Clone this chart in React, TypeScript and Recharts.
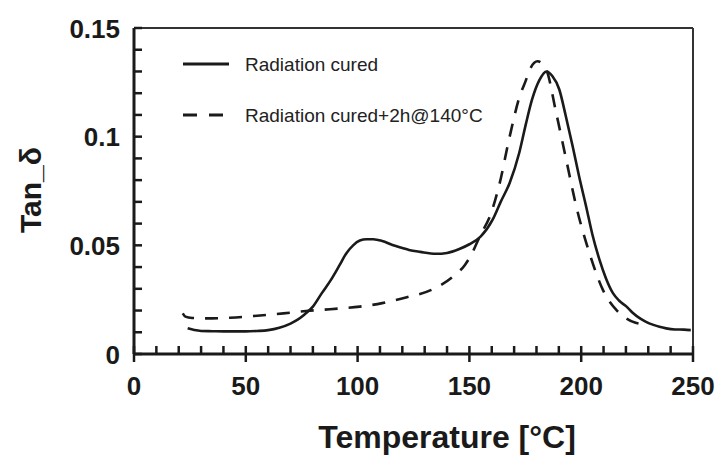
import React from 'react';
import { LineChart, Line, XAxis, YAxis, ReferenceLine, Label } from 'recharts';

const curedTemps = [24, 27, 30, 35, 40, 45, 50, 55, 60, 65, 70, 73, 76, 80, 84, 88, 92, 95, 98, 101, 104, 107, 111, 115.6, 120, 123, 128, 135, 140, 145.5, 150, 155, 160.4, 164, 168, 172.3, 175.3, 178, 181.3, 184.5, 187, 190.2, 193, 196.2, 199, 202.2, 205, 208.2, 211, 214.2, 217, 220.3, 223, 226.3, 229, 232.3, 235, 238, 242, 246, 249];
const curedTan = [0.0118, 0.011, 0.0106, 0.0105, 0.0104, 0.0104, 0.0104, 0.0106, 0.011, 0.0121, 0.014, 0.0157, 0.018, 0.0218, 0.028, 0.034, 0.041, 0.0464, 0.05, 0.0522, 0.0528, 0.0528, 0.052, 0.0502, 0.0488, 0.0479, 0.047, 0.0461, 0.0465, 0.0483, 0.0505, 0.054, 0.0618, 0.07, 0.0787, 0.0926, 0.106, 0.117, 0.126, 0.13, 0.128, 0.1217, 0.11, 0.0955, 0.082, 0.0679, 0.055, 0.0433, 0.035, 0.028, 0.0245, 0.0218, 0.019, 0.0164, 0.0148, 0.0134, 0.0125, 0.0118, 0.0113, 0.0112, 0.011];

const postTemps = [21.8, 23, 26, 32.5, 43, 55, 66.8, 77, 87.7, 101, 111, 122, 133, 142.6, 148, 151, 154.6, 159.7, 163.4, 168, 172.5, 175.3, 177, 180.5, 184.3, 188.8, 193.3, 197.8, 203.7, 209.7, 215.7, 220, 224, 226];
const postTan = [0.0187, 0.0172, 0.0166, 0.0164, 0.0167, 0.0176, 0.0187, 0.0198, 0.0206, 0.0218, 0.0234, 0.0261, 0.0295, 0.0356, 0.041, 0.046, 0.054, 0.0648, 0.078, 0.1, 0.1186, 0.126, 0.1309, 0.1347, 0.131, 0.111, 0.0894, 0.0679, 0.0464, 0.0295, 0.0203, 0.0165, 0.0145, 0.014];

const xTicks = [0, 10, 20, 30, 40, 50, 60, 70, 80, 90, 100, 110, 120, 130, 140, 150, 160, 170, 180, 190, 200, 210, 220, 230, 240, 250];
const xMajor = [0, 50, 100, 150, 200, 250];
const yTicks = [0, 0.01, 0.02, 0.03, 0.04, 0.05, 0.06, 0.07, 0.08, 0.09, 0.1, 0.11, 0.12, 0.13, 0.14, 0.15];
const yMajor = [0, 0.05, 0.1, 0.15];

const seriesNames = ['Radiation cured', 'Radiation cured+2h@140°C'];

const curedData = curedTemps.map((t, i) => ({ t, v: curedTan[i] }));
const postData = postTemps.map((t, i) => ({ t, v: postTan[i] }));

const FONT = '"Liberation Sans", Arial, Helvetica, sans-serif';
const INK = '#1a1a1a';

const XTick = (props: any) => {
  const { x, y, payload } = props;
  const v = payload.value;
  const major = xMajor.includes(v);
  return (
    <g>
      <path d={`M${x},${y - 8}L${x},${major ? y + 8 : y}`} stroke={INK} strokeWidth={2.5} fill="none" />
      {major && (
        <text x={x} y={y + 41} textAnchor="middle" fontFamily={FONT} fontWeight="bold" fontSize={26} fill={INK}>
          {String(v)}
        </text>
      )}
    </g>
  );
};

const YTick = (props: any) => {
  const { x, y, payload } = props;
  const v = payload.value;
  const major = yMajor.some((m) => Math.abs(m - v) < 1e-9);
  return (
    <g>
      <path d={`M${x},${y}L${x + 8},${y}`} stroke={INK} strokeWidth={2.5} fill="none" />
      {major && (
        <text x={x - 14} y={y + 9.5} textAnchor="end" fontFamily={FONT} fontWeight="bold" fontSize={26} fill={INK}>
          {String(v)}
        </text>
      )}
    </g>
  );
};

export default function App() {
  return (
    <div style={{ position: 'absolute', left: 0, top: 0, width: 723, height: 456, background: '#fff' }}>
      <LineChart width={723} height={456} margin={{ top: 28, right: 30, left: 0, bottom: 0 }}>
        <XAxis
          type="number"
          dataKey="t"
          domain={[0, 250]}
          ticks={xTicks}
          interval={0}
          tickSize={0}
          tickMargin={0}
          tick={<XTick />}
          tickLine={false}
          axisLine={{ stroke: INK, strokeWidth: 3 }}
          height={102}
          allowDuplicatedCategory={false}
        >
          <Label
            content={() => (
              <text x={447} y={448} textAnchor="middle" fontFamily={FONT} fontWeight="bold" fontSize={32} fill={INK}>
                Temperature [°C]
              </text>
            )}
          />
        </XAxis>
        <YAxis
          type="number"
          domain={[0, 0.15]}
          ticks={yTicks}
          interval={0}
          tickSize={0}
          tickMargin={0}
          tick={<YTick />}
          tickLine={false}
          axisLine={{ stroke: INK, strokeWidth: 3 }}
          width={134}
        >
          <Label
            content={() => (
              <text x={41} y={190} transform="rotate(-90 41 190)" textAnchor="middle" fontFamily={FONT} fontWeight="bold" fontSize={30} fill={INK}>
                Tan_δ
              </text>
            )}
          />
        </YAxis>
        <ReferenceLine y={0.15} stroke="#333" strokeWidth={2} />
        <ReferenceLine x={250} stroke="#333" strokeWidth={2} />
        <Line data={curedData} dataKey="v" name={seriesNames[0]} type="monotone" stroke={INK} strokeWidth={2.6} dot={false} isAnimationActive={false} />
        <Line data={postData} dataKey="v" name={seriesNames[1]} type="monotone" stroke={INK} strokeWidth={2.6} strokeDasharray="13 11" dot={false} isAnimationActive={false} />
      </LineChart>
      <svg width={400} height={100} style={{ position: 'absolute', left: 170, top: 40 }}>
        <path d="M13,24L59,24" stroke={INK} strokeWidth={3} fill="none" />
        <text x={75} y={30.5} fontFamily={FONT} fontSize={19} fill="#222">{seriesNames[0]}</text>
        <path d="M13,75L59,75" stroke={INK} strokeWidth={3} strokeDasharray="14 12" fill="none" />
        <text x={75} y={81.5} fontFamily={FONT} fontSize={19} fill="#222">{seriesNames[1]}</text>
      </svg>
    </div>
  );
}
